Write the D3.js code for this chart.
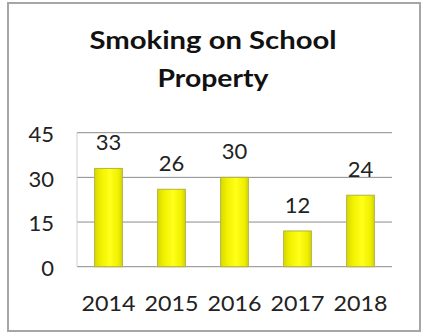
<!DOCTYPE html>
<html>
<head>
<meta charset="utf-8">
<script src="https://cdn.jsdelivr.net/npm/d3@7"></script>
<style>
  html, body { margin: 0; padding: 0; background: #fff; }
  svg { display: block; }
  text { font-family: Lato, "Open Sans", sans-serif; fill: #222; }
</style>
</head>
<body>
<svg id="chart" width="422" height="333"></svg>
<script>
// Chart data
const years = ["2014", "2015", "2016", "2017", "2018"];
const counts = [33, 26, 30, 12, 24];
const yTicks = [0, 15, 30, 45];
const titleLines = ["Smoking on School", "Property"];
const titleWidths = [247, 111];

const svg = d3.select("#chart");

// Outer frame
svg.append("rect")
  .attr("x", 8).attr("y", 3)
  .attr("width", 412).attr("height", 328)
  .attr("fill", "#fff")
  .attr("stroke", "#a6a6a6")
  .attr("stroke-width", 2);

// Title
svg.append("g")
  .selectAll("text")
  .data(titleLines)
  .join("text")
  .attr("x", 213)
  .attr("y", (d, i) => 49 + i * 38)
  .attr("text-anchor", "middle")
  .attr("textLength", (d, i) => titleWidths[i])
  .attr("lengthAdjust", "spacingAndGlyphs")
  .style("font-size", "24px")
  .style("font-weight", "bold")
  .style("fill", "#111")
  .text(d => d);

// Scales
const plot = { left: 77, right: 392, top: 132.7, bottom: 266.7 };
const x = d3.scaleBand()
  .domain(years)
  .range([plot.left, plot.right])
  .paddingInner(0.56)
  .paddingOuter(0.28);
const y = d3.scaleLinear()
  .domain([0, 45])
  .range([plot.bottom, plot.top]);

// Gridlines
svg.append("g")
  .selectAll("line")
  .data(yTicks)
  .join("line")
  .attr("x1", plot.left).attr("x2", plot.right)
  .attr("y1", d => y(d)).attr("y2", d => y(d))
  .attr("stroke", "#8c8c8c")
  .attr("stroke-width", 1);

// Vertical axis line
svg.append("line")
  .attr("x1", plot.left).attr("x2", plot.left)
  .attr("y1", y(45)).attr("y2", y(0))
  .attr("stroke", "#d0d0d0")
  .attr("stroke-width", 1);

// Y axis labels
const yAxis = d3.axisLeft(y).tickValues(yTicks).tickSize(0).tickPadding(0);
const yg = svg.append("g")
  .attr("transform", `translate(${54},0)`)
  .call(yAxis);
yg.select(".domain").remove();
yg.selectAll("text")
  .style("font-size", "22px")
  .style("font-family", "Lato, 'Open Sans', sans-serif")
  .attr("fill", "#222")
  .attr("dy", "0.4em");

// Bar gradient
const defs = svg.append("defs");
const grad = defs.append("linearGradient")
  .attr("id", "barFill")
  .attr("x1", "0").attr("x2", "1").attr("y1", "0").attr("y2", "0");
grad.append("stop").attr("offset", "0%").attr("stop-color", "#d9d900");
grad.append("stop").attr("offset", "25%").attr("stop-color", "#f2f200");
grad.append("stop").attr("offset", "55%").attr("stop-color", "#ffff1a");
grad.append("stop").attr("offset", "85%").attr("stop-color", "#f0f000");
grad.append("stop").attr("offset", "100%").attr("stop-color", "#d4d400");

const rows = years.map((yr, i) => ({ yr, v: counts[i] }));

// Bars
svg.append("g")
  .selectAll("rect")
  .data(rows)
  .join("rect")
  .attr("x", d => x(d.yr))
  .attr("y", d => y(d.v))
  .attr("width", x.bandwidth())
  .attr("height", d => y(0) - y(d.v))
  .attr("fill", "url(#barFill)")
  .attr("stroke", "#b3b340")
  .attr("stroke-width", 1);

// Value labels
svg.append("g")
  .selectAll("text")
  .data(rows)
  .join("text")
  .attr("x", d => x(d.yr) + x.bandwidth() / 2)
  .attr("y", d => y(d.v) - 18)
  .attr("text-anchor", "middle")
  .style("font-size", "22px")
  .text(d => d.v);

// X axis labels
const xAxis = d3.axisBottom(x).tickSize(0).tickPadding(0);
const xg = svg.append("g")
  .attr("transform", `translate(0,${295})`)
  .call(xAxis);
xg.select(".domain").remove();
xg.selectAll("text")
  .style("font-size", "22px")
  .style("font-family", "Lato, 'Open Sans', sans-serif")
  .attr("fill", "#222")
  .attr("dy", "0.72em")
  .attr("textLength", 54)
  .attr("lengthAdjust", "spacingAndGlyphs");
</script>
</body>
</html>
